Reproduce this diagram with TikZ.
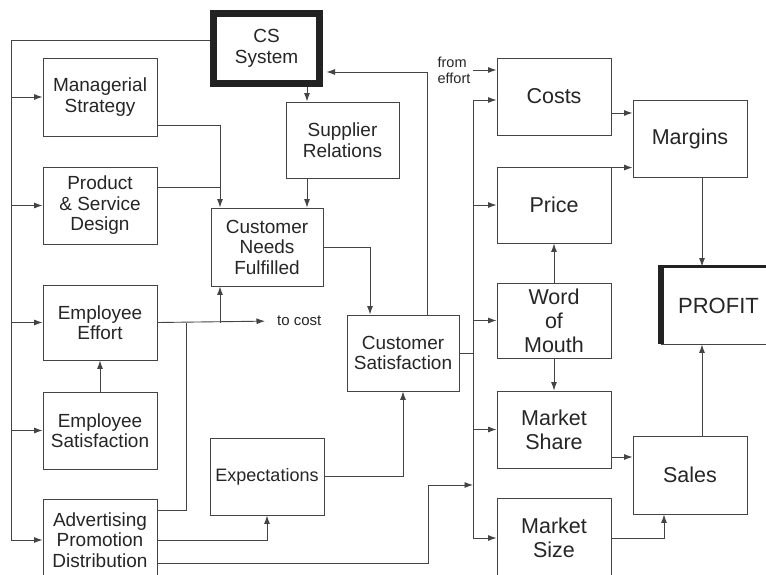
\documentclass[tikz,border=0pt]{standalone}
\usepackage{fontspec}
\setmainfont{Liberation Sans}
\usetikzlibrary{arrows.meta}
\definecolor{ink}{HTML}{262626}
\definecolor{linec}{HTML}{444444}
\definecolor{heavy}{HTML}{222222}
\begin{document}
\begin{tikzpicture}[x=1pt,y=-1pt,
  box/.style={draw=linec, line width=0.9pt, inner sep=0pt, text=ink, align=center,
    minimum width=114pt, font=\fontsize{19}{20.5}\selectfont},
  bigbox/.style={box, font=\fontsize{21.5}{24}\selectfont},
  ln/.style={draw=linec, line width=0.9pt},
  arr/.style={ln, -{Latex[length=8.5pt,width=6pt]}},
  lbl/.style={text=ink, inner sep=0pt}
]
\useasboundingbox (0,0) rectangle (766,575);
\fill[white] (0,0) rectangle (766,575);
\clip (0,0) rectangle (766,575);

% left column
\node[box, line width=7pt, draw=heavy, minimum width=106pt, minimum height=70pt] (cs) at (266.5,48.5) {CS\\System};
\node[box, minimum height=78pt] (ms) at (100,97) {Managerial\\Strategy};
\node[box, minimum height=77pt] (psd) at (100,205.5) {Product\\\& Service\\Design};
\node[box, minimum height=75pt] (ee) at (100,322.5) {Employee\\Effort};
\node[box, minimum height=77pt] (es) at (100,430.5) {Employee\\Satisfaction};
\node[box, minimum height=82pt] (apd) at (100,540) {Advertising\\Promotion\\Distribution};

% middle
\node[box, minimum width=113pt, minimum height=76pt] (sr) at (342.5,140) {Supplier\\Relations};
\node[box, minimum width=112pt, minimum height=78pt] (cnf) at (267,247) {Customer\\Needs\\Fulfilled};
\node[box, minimum width=112pt, minimum height=76pt] (csat) at (403,353) {Customer\\Satisfaction};
\node[box, minimum height=77pt, font=\fontsize{18}{20}\selectfont] (exp) at (267,476.5) {Expectations};

% right
\node[bigbox, minimum height=77pt] (costs) at (554,96.5) {Costs};
\node[bigbox, minimum height=76pt] (price) at (554,205) {Price};
\node[bigbox, minimum height=75pt] (wom) at (554,320.5) {Word\\of\\Mouth};
\node[bigbox, minimum height=77pt] (mshare) at (554,429.5) {Market\\Share};
\node[bigbox, minimum height=80pt] (msize) at (554,538) {Market\\Size};
\node[bigbox, minimum height=77pt] (margins) at (690,138.5) {Margins};
\node[bigbox, minimum height=78pt] (sales) at (690,475) {Sales};
\node[bigbox, minimum height=77pt, font=\fontsize{22}{24}\selectfont] (profit) at (718.5,305.5) {PROFIT};
\draw[heavy, line width=6pt] ([yshift=1.5pt]profit.north west) -- (profit.south west);
\draw[heavy, line width=3pt] ([xshift=-3pt]profit.north west) -- (profit.north east);

% small labels
\node[lbl, anchor=west, font=\fontsize{15}{16}\selectfont] (tocost) at (277,321) {to cost};
\node[lbl, align=left, font=\fontsize{14.5}{16}\selectfont] (fe) at (454,70) {from\\effort};

% helper coordinates
\coordinate (jx) at ([xshift=-47pt]cnf.north);
\coordinate (jxs) at ([xshift=-47pt]cnf.south);
\coordinate (srn) at ([xshift=-35.5pt]sr.north);
\coordinate (srs) at ([xshift=-35.5pt]sr.south);
\coordinate (psde) at ([yshift=18.5pt]psd.east);
\coordinate (cse) at ([xshift=3.5pt,yshift=-23.5pt]cs.east);
\coordinate (coste) at ([yshift=-16.5pt]costs.east);
\coordinate (pricene) at ([yshift=-1pt]price.north east);
\coordinate (margs) at ([xshift=12pt]margins.south);
\coordinate (salesn) at ([xshift=12pt]sales.north);
\coordinate (mshe) at ([yshift=-27.5pt]mshare.east);

% left bus
\coordinate (bt) at (11,40);
\draw[ln] (cs.west |- bt) -- (bt) -- (bt |- apd.west);
\draw[arr] (bt |- ms.west) -- (ms.west);
\draw[arr] (bt |- psd.west) -- (psd.west);
\draw[arr] (bt |- ee.west) -- (ee.west);
\draw[arr] (bt |- es.west) -- (es.west);
\draw[arr] (bt |- apd.west) -- (apd.west);

% middle connectors
\draw[arr] (srn |- cs.south) -- (srn);
\draw[arr] ([yshift=-28pt]ms.east) -| (jx);
\draw[ln] (psde) -- (psde -| jx);
\draw[arr] (srs) -- (srs |- cnf.north);
\draw[arr] (cnf.east) -| ([xshift=-33pt]csat.north);
\draw[arr] ([xshift=24pt]csat.north) |- (cse);
\draw[arr, shorten >=12pt] (ee.east) -- (tocost.west);
\draw[arr] (jxs |- ee.east) -- (jxs);
\draw[arr] (es.north) -- (ee.south);
\draw[ln] ([yshift=30pt]apd.east) -| ([xshift=29pt]ee.east);
\draw[arr] (apd.east) -| (exp.south);
\draw[arr] (exp.east) -| (csat.south);

% right bus
\coordinate (rt) at (473,100);
\coordinate (rb) at (473,485);
\draw[arr] (rt) |- (msize.west);
\draw[arr] (rt) -- (costs.west |- rt);
\draw[arr] (rt |- price.west) -- (price.west);
\draw[arr] (rt |- wom.west) -- (wom.west);
\draw[arr] (rt |- mshare.west) -- (mshare.west);
\draw[ln] (csat.east) -- (csat.east -| rt);
\draw[arr] ([yshift=-23pt]apd.east) -| ([xshift=-45pt]rb) -- (rb);
\draw[arr] ([xshift=2pt]fe.east) -- (costs.west |- fe.east);

% right side
\draw[arr] (coste) -- (coste -| margins.west);
\draw[arr] (pricene) -- (pricene -| margins.west);
\draw[arr] (margs) -- (margs |- profit.north);
\draw[arr] (wom.north) -- (price.south);
\draw[arr] (wom.south) -- (mshare.north);
\draw[arr] (mshe) -- (mshe -| sales.west);
\draw[arr] (msize.east) -| ([xshift=-26pt]sales.south);
\draw[arr] (salesn) -- (salesn |- profit.south);
\end{tikzpicture}
\end{document}
